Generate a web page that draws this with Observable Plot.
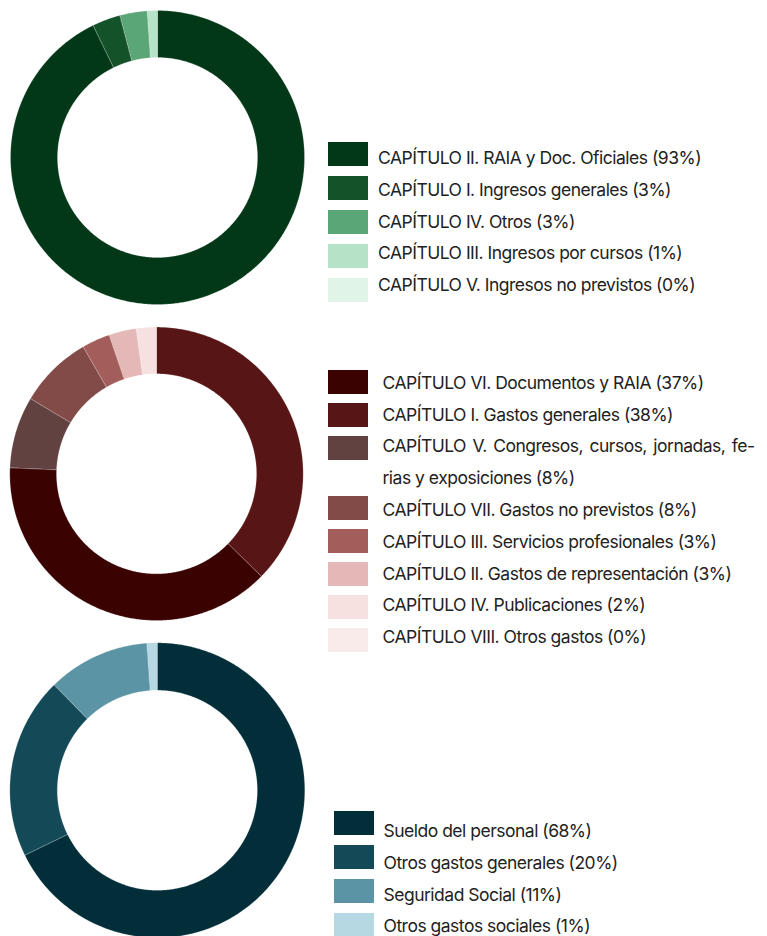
<!DOCTYPE html>
<html><head><meta charset="utf-8">
<script src="https://cdn.jsdelivr.net/npm/d3@7"></script>
<script src="https://cdn.jsdelivr.net/npm/@observablehq/plot@0.6"></script>
<style>
body{margin:0;background:#fff;}
#root{position:relative;width:767px;height:936px;overflow:hidden;font-family:Inter, "Noto Sans", sans-serif;color:#222;}
.chart{position:absolute;left:0;}
.sw{position:absolute;width:40px;height:24px;}
.lb{position:absolute;font-size:17.5px;letter-spacing:-0.5px;line-height:31.8px;white-space:nowrap;}
.lb div{display:block;}
.just{text-align:justify;text-align-last:justify;}
</style></head><body><div id="root"></div>
<script>
// ---- Ingresos ----
const ingresosLabels = [
  "CAPÍTULO II. RAIA y Doc. Oficiales (93%)",
  "CAPÍTULO I. Ingresos generales (3%)",
  "CAPÍTULO IV. Otros (3%)",
  "CAPÍTULO III. Ingresos por cursos (1%)",
  "CAPÍTULO V. Ingresos no previstos (0%)"
];
const ingresosValues = [92.8, 3.1, 3.0, 1.1, 0.0];
const ingresosColors = ["#023817", "#14532a", "#5ba677", "#b6e2c7", "#e1f4e8"];
const ingresosOrder = [0, 1, 2, 3, 4];

// ---- Gastos ----
const gastosLabels = [
  "CAPÍTULO VI. Documentos y RAIA (37%)",
  "CAPÍTULO I. Gastos generales (38%)",
  "CAPÍTULO V. Congresos, cursos, jornadas, fe-|rias y exposiciones (8%)",
  "CAPÍTULO VII. Gastos no previstos (8%)",
  "CAPÍTULO III. Servicios profesionales (3%)",
  "CAPÍTULO II. Gastos de representación (3%)",
  "CAPÍTULO IV. Publicaciones (2%)",
  "CAPÍTULO VIII. Otros gastos (0%)"
];
const gastosValues = [38.3, 37.3, 7.9, 8.1, 3.1, 3.0, 2.2, 0.0];
const gastosColors = ["#3a0302", "#581515", "#614240", "#834b48", "#a35e5c", "#e3b8b7", "#f6e0e0", "#f9ebea"];
const gastosOrder = [1, 0, 2, 3, 4, 5, 6, 7];

// ---- Personal ----
const personalLabels = [
  "Sueldo del personal (68%)",
  "Otros gastos generales (20%)",
  "Seguridad Social (11%)",
  "Otros gastos sociales (1%)"
];
const personalValues = [67.7, 19.9, 11.2, 1.1];
const personalColors = ["#022e3a", "#144a57", "#5b95a5", "#b6d8e3"];
const personalOrder = [0, 1, 2, 3];

const root = document.getElementById("root");

function donut(values, colors, order, o) {
  const total = d3.sum(order, i => values[i]);
  const pts = [];
  let acc = 0;
  const k0 = o.r0 / o.r;
  for (const i of order) {
    const a0 = acc / total * 2 * Math.PI;
    acc += values[i];
    const a1 = acc / total * 2 * Math.PI;
    if (a1 - a0 <= 0) continue;
    const n = Math.max(2, Math.ceil((a1 - a0) / (Math.PI / 360)));
    for (let k = 0; k <= n; k++) { const a = a0 + (a1 - a0) * k / n; pts.push({x: Math.sin(a), y: Math.cos(a), s: i}); }
    for (let k = n; k >= 0; k--) { const a = a0 + (a1 - a0) * k / n; pts.push({x: k0 * Math.sin(a), y: k0 * Math.cos(a), s: i}); }
  }
  const svg = Plot.plot({
    width: o.width, height: o.height, margin: 0,
    x: {domain: [-1, 1], range: [o.cx - o.r, o.cx + o.r], axis: null},
    y: {domain: [-1, 1], range: [o.cy + o.r, o.cy - o.r], axis: null},
    color: {type: "ordinal", domain: values.map((_, i) => i), range: colors},
    marks: [
      Plot.line(pts, {x: "x", y: "y", z: "s", fill: "s", stroke: "white", strokeWidth: 0.4, strokeOpacity: 0.5, curve: "linear-closed"})
    ]
  });
  svg.classList.add("chart");
  svg.style.top = o.top + "px";
  root.appendChild(svg);
}

function legend(labels, colors, o) {
  let y = o.swTop;
  const box = document.createElement("div");
  box.className = "lb";
  box.style.left = o.tx + "px";
  box.style.top = (o.baseline - 22.26) + "px";
  labels.forEach((lab, i) => {
    const sw = document.createElement("div");
    sw.className = "sw";
    sw.style.left = o.swx + "px";
    sw.style.top = y + "px";
    sw.style.background = colors[i];
    root.appendChild(sw);
    const parts = lab.split("|");
    parts.forEach((p, j) => {
      const d = document.createElement("div");
      if (j < parts.length - 1) { d.className = "just"; d.style.width = o.wrapW + "px"; }
      d.textContent = p;
      box.appendChild(d);
    });
    y += o.step + (parts.length - 1) * (o.extra || 0);
  });
  root.appendChild(box);
}

donut(ingresosValues, ingresosColors, ingresosOrder, {top: 0, width: 312, height: 312, cx: 157, cy: 157, r: 147, r0: 100});
donut(gastosValues, gastosColors, gastosOrder, {top: 318, width: 312, height: 312, cx: 156, cy: 155.3, r: 146.7, r0: 100});
donut(personalValues, personalColors, personalOrder, {top: 634, width: 312, height: 302, cx: 156.8, cy: 155.8, r: 147.5, r0: 100});

legend(ingresosLabels, ingresosColors, {swTop: 141.7, step: 34, swx: 328, tx: 378, baseline: 164.3});
legend(gastosLabels, gastosColors, {swTop: 370, step: 33, extra: 27, swx: 328, tx: 382.5, baseline: 389, wrapW: 372});
legend(personalLabels, personalColors, {swTop: 811, step: 33.9, swx: 334, tx: 383.5, baseline: 837.3});
</script></body></html>
